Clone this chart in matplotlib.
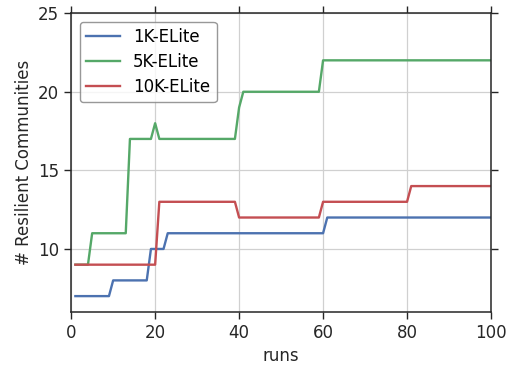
import numpy as np
import matplotlib.pyplot as plt

# runs 1..100
runs = np.arange(1, 101)

# 1K-ELite
elite_1k = [7] * 9 + [8] * 9 + [10] * 4 + [11] * 38 + [12] * 40
# 5K-ELite
elite_5k = [9] * 4 + [11] * 9 + [17] * 6 + [18] + [17] * 19 + [19] + [20] * 19 + [22] * 41
# 10K-ELite
elite_10k = [9] * 20 + [13] * 19 + [12] * 20 + [13] * 21 + [14] * 20

labels = ['1K-ELite', '5K-ELite', '10K-ELite']
colors = ['#4C72B0', '#55A868', '#C44E52']

plt.rcParams['font.family'] = 'DejaVu Sans'
fig = plt.figure(figsize=(5.12, 3.66), dpi=100)
ax = fig.add_axes([0.139, 0.148, 0.820, 0.816])

for y, lab, c in zip([elite_1k, elite_5k, elite_10k], labels, colors):
    ax.plot(runs, y, color=c, lw=1.7, label=lab)

ax.set_xlim(0, 100)
ax.set_ylim(6, 25)
ax.set_xticks([0, 20, 40, 60, 80, 100])
ax.set_yticks([10, 15, 20, 25])
ax.grid(True, color='#d0d0d0', lw=0.9)
ax.set_axisbelow(True)
for s in ax.spines.values():
    s.set_color('#262626')
    s.set_linewidth(1.1)
ax.tick_params(direction='out', length=5, width=1, color='#262626',
               labelsize=12, labelcolor='#262626', top=True, right=True)
ax.set_xlabel('runs', fontsize=12, color='#262626')
ax.set_ylabel('# Resilient Communities', fontsize=12, color='#262626')

leg = ax.legend(loc='upper left', fontsize=12, frameon=True, fancybox=True,
                handlelength=2.0, handletextpad=0.8, labelspacing=0.4,
                borderaxespad=0.5)
leg.get_frame().set_edgecolor('#7f7f7f')

fig.savefig('out.png', dpi=100)
